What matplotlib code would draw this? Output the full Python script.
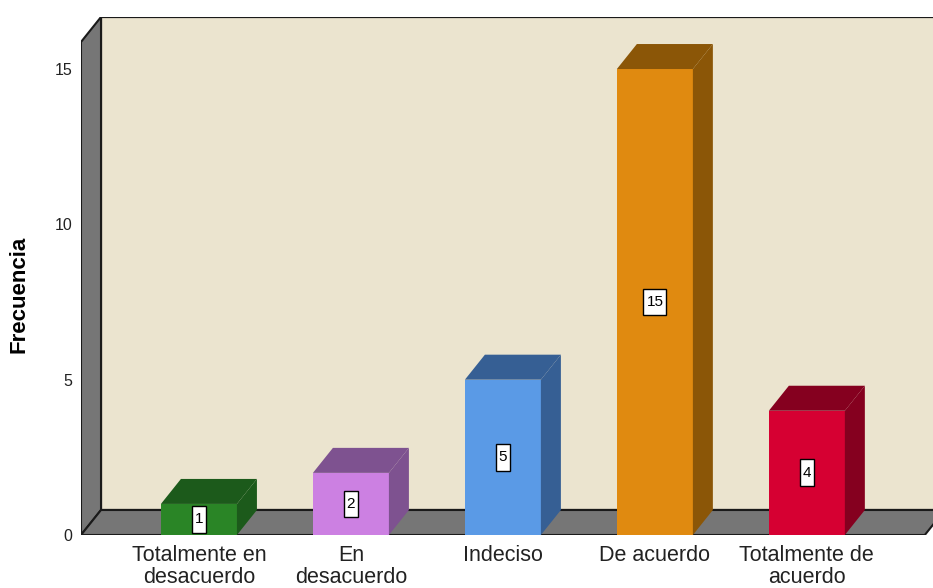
import numpy as np
import matplotlib
matplotlib.use("Agg")
import matplotlib.pyplot as plt
from matplotlib.patches import Polygon, Rectangle
from matplotlib.path import Path

plt.rcParams['font.family'] = ['Liberation Sans', 'DejaVu Sans']

categorias = ["Totalmente en\ndesacuerdo", "En\ndesacuerdo", "Indeciso",
              "De acuerdo", "Totalmente de\nacuerdo"]
frecuencias = [1, 2, 5, 15, 4]
yticks = [0, 5, 10, 15]

front_colors = ["#2a8526", "#cc80e2", "#5a9ae6", "#e08a10", "#d60032"]
top_colors = ["#1c5a1b", "#7e5290", "#365f94", "#8b5607", "#85001f"]

wall = "#767676"
backwall = "#ebe4cf"


def label_box(x0, y0, width, height, mutation_size):
	# taller than wide padding, like the spss value labels
	px = 0.2 * mutation_size
	py = 0.42 * mutation_size
	return Path([(x0-px, y0-py), (x0+width+px, y0-py), (x0+width+px, y0+height+py),
	             (x0-px, y0+height+py), (x0-px, y0-py)], closed=True)


fig = plt.figure(figsize=(9.33, 5.88), dpi=100)
ax = fig.add_axes([81/933, 53/588, (933-81)/933, (535-17)/588])

# depth offset of the 3d effect (data units)
dx = 20/152
dy = 25/31.07
x0 = -0.776
x1 = 4.776
xr = 4.83
ytop = 15.87
bw = 0.25

ax.set_xlim(x0, xr)
ax.set_ylim(0, ytop + dy)

# back wall
ax.add_patch(Rectangle((x0+dx, dy), xr-x0, ytop, facecolor=backwall,
                       edgecolor='#1a1a1a', lw=1.6, zorder=1))
# left wall
ax.add_patch(Polygon([(x0, 0), (x0, ytop), (x0+dx, ytop+dy), (x0+dx, dy)],
                     closed=True, facecolor=wall, edgecolor='#1a1a1a', lw=1.5, zorder=2))
# floor
ax.add_patch(Polygon([(x0, 0), (x1, 0), (x1+dx, dy), (x0+dx, dy)],
                     closed=True, facecolor=wall, edgecolor='#1a1a1a', lw=1.5, zorder=2))

for i, v in enumerate(frecuencias):
	l, r = i - bw, i + bw
	ax.add_patch(Rectangle((l, 0), 2*bw, v, facecolor=front_colors[i],
	                       edgecolor='none', zorder=3))
	ax.add_patch(Polygon([(l, v), (r, v), (r+dx, v+dy), (l+dx, v+dy)], closed=True,
	                     facecolor=top_colors[i], edgecolor='none', zorder=3))
	ax.add_patch(Polygon([(r, 0), (r+dx, dy), (r+dx, v+dy), (r, v)], closed=True,
	                     facecolor=top_colors[i], edgecolor='none', zorder=3))
	ax.text(i, v/2, str(v), ha='center', va='center', fontsize=11, zorder=5,
	        bbox=dict(boxstyle=label_box, facecolor='white', edgecolor='black', lw=1))

for s in ax.spines.values():
	s.set_visible(False)

ax.set_yticks(yticks)
ax.set_yticklabels([str(t) for t in yticks], fontsize=11.5, color='#222222')
ax.set_xticks(range(len(categorias)))
ax.set_xticklabels(categorias, fontsize=15.5, linespacing=1.05, color='#222222')
ax.tick_params(axis='y', length=0, pad=6)
ax.tick_params(axis='x', length=0, pad=7)
ax.patch.set_visible(False)

fig.text(19/933, 1-294/588, "Frecuencia", rotation=90, ha='center', va='center',
         fontsize=16, fontweight='bold')

fig.savefig("out.png", dpi=100)
